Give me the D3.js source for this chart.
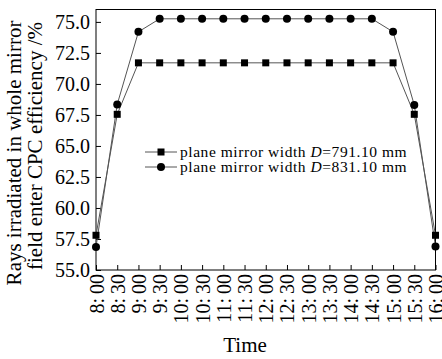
<!DOCTYPE html>
<html>
<head>
<meta charset="utf-8">
<script src="https://cdn.jsdelivr.net/npm/d3@7"></script>
<style>
  body { margin: 0; background: #fff; }
  text { font-family: "Liberation Serif", "Times New Roman", serif; fill: #000; }
</style>
</head>
<body>
<script>
// data
var times = ["8:00", "8:30", "9:00", "9:30", "10:00", "10:30", "11:00", "11:30", "12:00",
             "12:30", "13:00", "13:30", "14:00", "14:30", "15:00", "15:30", "16:00"];
var width791 = [57.8, 67.55, 71.7, 71.7, 71.7, 71.7, 71.7, 71.7, 71.7,
                71.7, 71.7, 71.7, 71.7, 71.7, 71.7, 67.55, 57.8];
var width831 = [56.85, 68.35, 74.2, 75.25, 75.25, 75.25, 75.25, 75.25, 75.25,
                75.25, 75.25, 75.25, 75.25, 75.25, 74.2, 68.3, 56.9];
var yTicks = [55, 57.5, 60, 62.5, 65, 67.5, 70, 72.5, 75];
var seriesNames = ["791.10", "831.10"];

// margins
var outWidth = 442, outHeight = 359;
var margin = {top: 9.5, right: 6.5, bottom: 89, left: 96},
    width = outWidth - margin.left - margin.right,
    height = outHeight - margin.top - margin.bottom;

// scales
var xScale = d3.scalePoint().domain(times).range([0, width]);
var yScale = d3.scaleLinear().domain([55, 76]).range([height, 0]);

var xAxis = d3.axisBottom(xScale).tickSizeInner(-5).tickSizeOuter(0).tickPadding(4);
var yAxis = d3.axisLeft(yScale).tickValues(yTicks).tickFormat(d3.format(".1f"))
              .tickSizeInner(-5).tickSizeOuter(0).tickPadding(6);

var svg = d3.select("body").append("svg")
    .attr("width", outWidth)
    .attr("height", outHeight);

var g = svg.append("g")
    .attr("transform", "translate(" + margin.left + "," + margin.top + ")");

// frame
g.append("rect")
    .attr("width", width).attr("height", height)
    .attr("fill", "none").attr("stroke", "#000").attr("stroke-width", 1);

// x axis, rotated labels
var gx = g.append("g")
    .attr("transform", "translate(0," + height + ")")
    .call(xAxis);
gx.select(".domain").remove();
gx.selectAll(".tick line").attr("stroke", "#000");
gx.selectAll("text")
    .text(function(d) { return d.replace(":", ":\u2009"); })
    .attr("font-size", 20)
    .attr("transform", "rotate(-90)")
    .attr("x", -4).attr("y", 0).attr("dy", "0.35em")
    .style("text-anchor", "end");

// y axis
var gy = g.append("g").call(yAxis);
gy.select(".domain").remove();
gy.selectAll(".tick line").attr("stroke", "#000");
gy.selectAll("text").attr("font-size", 20);

// lines + markers
var line = d3.line()
    .x(function(d, i) { return xScale(times[i]); })
    .y(function(d) { return yScale(d); });

[width791, width831].forEach(function(vals) {
  g.append("path")
      .datum(vals)
      .attr("d", line)
      .attr("fill", "none")
      .attr("stroke", "#555")
      .attr("stroke-width", 1);
});

g.selectAll(".sq")
    .data(width791)
    .enter().append("rect")
    .attr("class", "sq")
    .attr("x", function(d, i) { return xScale(times[i]) - 3.5; })
    .attr("y", function(d) { return yScale(d) - 3.5; })
    .attr("width", 7).attr("height", 7)
    .attr("fill", "#000");

g.selectAll(".ci")
    .data(width831)
    .enter().append("circle")
    .attr("class", "ci")
    .attr("cx", function(d, i) { return xScale(times[i]); })
    .attr("cy", function(d) { return yScale(d); })
    .attr("r", 4)
    .attr("fill", "#000");

// legend
var legend = svg.selectAll(".legend")
    .data(seriesNames)
    .enter().append("g")
    .attr("class", "legend")
    .attr("transform", function(d, i) { return "translate(145," + (152 + i * 15) + ")"; });

legend.append("line")
    .attr("x1", 0).attr("x2", 32)
    .attr("stroke", "#555").attr("stroke-width", 1);
legend.each(function(d, i) {
  var l = d3.select(this);
  if (i == 0) {
    l.append("rect").attr("x", 12.5).attr("y", -3.5).attr("width", 7).attr("height", 7).attr("fill", "#000");
  } else {
    l.append("circle").attr("cx", 16).attr("r", 4).attr("fill", "#000");
  }
});
var lt = legend.append("text")
    .attr("x", 35).attr("dy", "0.33em")
    .attr("font-size", 15.5)
    .style("letter-spacing", "0.55px");
lt.append("tspan").text("plane mirror width ");
lt.append("tspan").style("font-style", "italic").text("D");
lt.append("tspan").text(function(d) { return "=" + d + " mm"; });

// axis titles
svg.append("text")
    .attr("x", 245).attr("y", 352)
    .style("text-anchor", "middle")
    .attr("font-size", 21)
    .text("Time");

svg.append("text")
    .attr("transform", "translate(21,153) rotate(-90)")
    .style("text-anchor", "middle")
    .attr("font-size", 21)
    .text("Rays irradiated in whole mirror");
svg.append("text")
    .attr("transform", "translate(42,146) rotate(-90)")
    .style("text-anchor", "middle")
    .attr("font-size", 21)
    .text("field enter CPC efficiency /%");
</script>
</body>
</html>
